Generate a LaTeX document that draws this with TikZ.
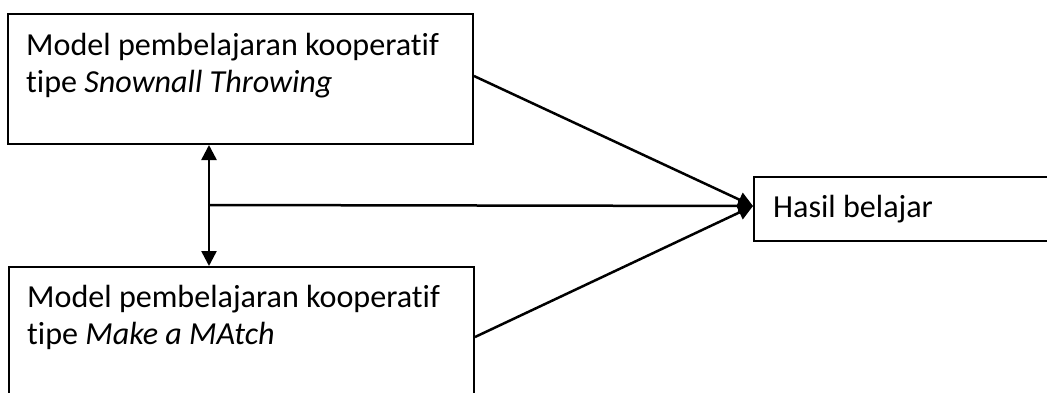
\documentclass[tikz,border=0pt]{standalone}
\usepackage{fontspec}
\setmainfont[Ligatures={NoCommon,NoContextual}]{Carlito}
\usetikzlibrary{arrows.meta,calc}
\begin{document}
\begin{tikzpicture}[x=1pt,y=-1pt,
  box/.style={draw=black,line width=2pt,rectangle,inner sep=0pt,anchor=north west},
  lbl/.style={anchor=base west,inner sep=0pt,align=left,font=\fontsize{32.1}{37}\selectfont},
  conn/.style={line width=2.5pt,-{Triangle[width=15pt,length=15pt]}},
  biconn/.style={line width=2.5pt,{Triangle[width=15pt,length=15pt]}-{Triangle[width=15pt,length=15pt]}}]
\useasboundingbox (0,0) rectangle (1047,392);
\clip (0,0) rectangle (1047,392);
\node[box,minimum width=465pt,minimum height=130pt] (top) at (7,13) {};
\node[box,minimum width=465pt,minimum height=140pt] (bot) at (8,266) {};
\node[box,minimum width=310pt,minimum height=64pt] (hasil) at (753,176) {};
\node[lbl] (ttop) at (26,55) {Model pembelajaran kooperatif};
\node[lbl] (ttop2) at (26,92) {tipe \textit{Snownall Throwing}};
\node[lbl] (tbot) at (27,307) {Model pembelajaran kooperatif};
\node[lbl] (tbot2) at (27,344) {tipe \textit{Make a MAtch}};
\node[lbl] (thasil) at (773,217) {Hasil belajar};
\coordinate (vx) at (209,0);
\coordinate (jn) at (209,205);
\coordinate (tip) at ([yshift=3pt]hasil.west);
\draw[biconn] (top.south -| vx) -- (bot.north -| vx);
\draw[conn] (jn) -- (tip);
\draw[conn] ([yshift=3pt]top.east) -- (tip);
\draw[conn] (bot.east) -- (tip);
\end{tikzpicture}
\end{document}
